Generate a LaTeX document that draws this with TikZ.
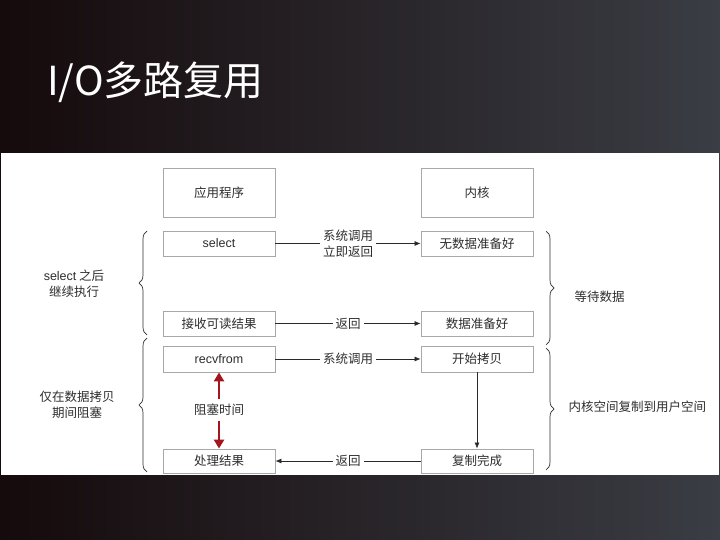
\documentclass[tikz,border=0pt]{standalone}
\usepackage{fontspec}
\setmainfont{Noto Sans CJK SC}
\newfontfamily\latinsans{Liberation Sans}
\usetikzlibrary{arrows.meta,decorations.pathreplacing}
\definecolor{txt}{HTML}{2E2E2E}
\definecolor{boxc}{HTML}{A8A8A8}
\definecolor{linec}{HTML}{2A2A2A}
\definecolor{blockred}{HTML}{A3161E}
\definecolor{bgl}{HTML}{150A0C}
\definecolor{bgr}{HTML}{3A3D44}
\begin{document}
\begin{tikzpicture}[x=1pt,y=-1pt,
  box/.style={draw=boxc, line width=0.8pt, minimum width=112pt, inner sep=0pt,
    font=\fontsize{12.5}{15}\selectfont, text=txt},
  lbl/.style={font=\fontsize{12.5}{16}\selectfont, text=txt, align=center},
  conn/.style={draw=linec, line width=0.7pt, -{Latex[length=6pt,width=5pt]}},
  onconn/.style={lbl, fill=white, inner sep=3pt},
  redarr/.style={draw=blockred, line width=2.8pt, -{Triangle[length=9pt,width=10pt]}},
  bracedec/.style={draw=txt, line width=0.7pt, decorate, decoration={brace, amplitude=8pt}}]
\useasboundingbox (0,0) rectangle (720,540);
% background
\shade[left color=bgl, right color=bgr] (0,0) rectangle (720,540);
\fill[white] (1,153) rectangle (719,475);
% title
\node[anchor=west, text=white, font=\fontsize{40}{46}\selectfont, inner sep=0pt] (title) at (47,82) {I/O多路复用};
% boxes
\node[box, minimum height=49pt] (app) at (219,192.5) {应用程序};
\node[box, minimum height=49pt] (kern) at (477,192.5) {内核};
\node[box, minimum height=25pt] (sel) at (219,243.5) {\latinsans select};
\node[box, minimum height=25pt] (nodata) at (477,243.5) {无数据准备好};
\node[box, minimum height=25pt] (recv) at (219,323.5) {接收可读结果};
\node[box, minimum height=25pt] (ready) at (477,323.5) {数据准备好};
\node[box, minimum height=26pt] (recvfrom) at (219,359) {\latinsans recvfrom};
\node[box, minimum height=26pt] (start) at (477,359) {开始拷贝};
\node[box, minimum height=24pt] (proc) at (219,461) {处理结果};
\node[box, minimum height=24pt] (done) at (477,461) {复制完成};
% connectors
\draw[conn] (sel) -- node[onconn] {系统调用\\立即返回} (nodata);
\draw[conn] (recv) -- node[onconn] {返回} (ready);
\draw[conn] (recvfrom) -- node[onconn] {系统调用} (start);
\draw[conn] (start) -- (done);
\draw[conn] (done) -- node[onconn] {返回} (proc);
% blocking time
\node[lbl] (blk) at (219,410) {阻塞时间};
\draw[redarr, shorten <=2pt] (blk.north) -- (recvfrom.south);
\draw[redarr, shorten <=2pt] (blk.south) -- (proc.north);
% braces
\draw[bracedec] (147,335) -- (147,231);
\draw[bracedec] (147,472) -- (147,338);
\draw[bracedec] (546,231) -- (546,345);
\draw[bracedec] (546,348) -- (546,470);
\node[lbl] (l1) at (74,284) {{\latinsans select} 之后\\继续执行};
\node[lbl] (l2) at (77,405) {仅在数据拷贝\\期间阻塞};
\node[lbl, anchor=west] (r1) at (571,297) {等待数据};
\node[lbl, anchor=west] (r2) at (565,407) {内核空间复制到用户空间};
\end{tikzpicture}
\end{document}
